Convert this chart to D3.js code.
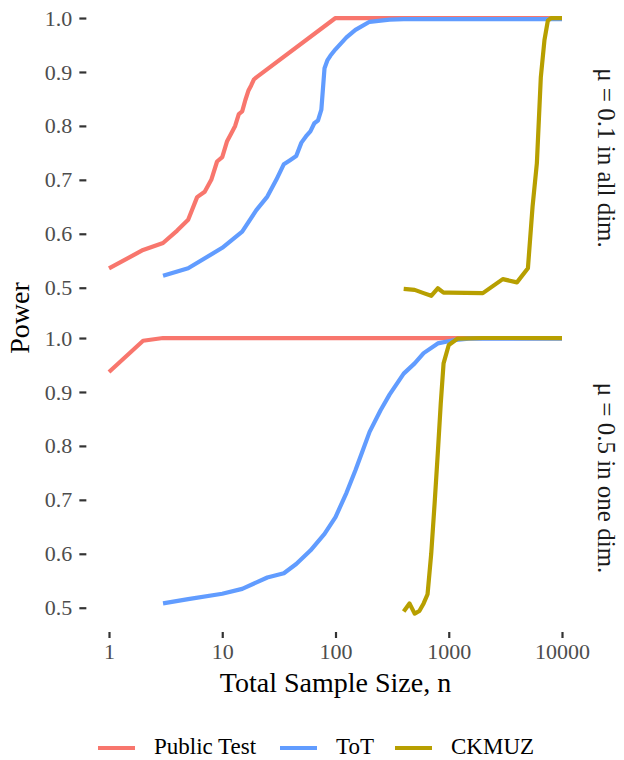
<!DOCTYPE html>
<html>
<head>
<meta charset="utf-8">
<script src="https://cdn.jsdelivr.net/npm/d3@7"></script>
<style>
    body { margin: 0; background: #fff; }
    svg { display: block; font-family: 'Liberation Serif', 'Times New Roman', serif; }
</style>
</head>
<body>
<svg id="chart" width="624" height="760"></svg>
<script>
// series names and colours
const methods = ['Public Test', 'ToT', 'CKMUZ'];
const methodColors = ['#F8766D', '#619CFF', '#B79F00'];

// facet labels
const facets = ['\u03bc = 0.1 in all dim.', '\u03bc = 0.5 in one dim.'];

// tick labels
const xTicks = [1, 10, 100, 1000, 10000];
const yTicks = [0.5, 0.6, 0.7, 0.8, 0.9, 1.0];

// top facet: mu = 0.1 in all dim.
const publicN1 = [1, 2, 3, 4, 5, 6, 7, 8, 9, 10, 11, 12, 13, 14, 15, 16, 17, 18, 19, 20, 100, 1000, 10000];
const publicP1 = [0.536, 0.570, 0.583, 0.606, 0.626, 0.668, 0.678, 0.700, 0.734, 0.742, 0.771, 0.786, 0.800, 0.822, 0.827, 0.848, 0.865, 0.875, 0.886, 0.890, 1.0, 1.0, 1.0];

const totN1 = [3, 5, 10, 15, 20, 25, 30, 35, 40, 45, 50, 55, 60, 65, 70, 75, 80, 85, 90, 100, 125, 150, 200, 300, 400, 500, 1000, 10000];
const totP1 = [0.522, 0.536, 0.574, 0.604, 0.644, 0.669, 0.700, 0.729, 0.737, 0.744, 0.769, 0.781, 0.790, 0.805, 0.810, 0.830, 0.907, 0.922, 0.930, 0.942, 0.964, 0.978, 0.993, 0.997, 0.998, 0.998, 0.998, 0.998];

const ckN1 = [400, 500, 600, 700, 800, 900, 1000, 2000, 3000, 4000, 5000, 5500, 6000, 6500, 7000, 7500, 8000, 9000, 10000];
const ckP1 = [0.498, 0.496, 0.490, 0.485, 0.499, 0.491, 0.491, 0.490, 0.516, 0.510, 0.536, 0.651, 0.731, 0.890, 0.959, 0.995, 1.0, 1.0, 1.0];

// bottom facet: mu = 0.5 in one dim.
const publicN2 = [1, 2, 3, 5, 10, 20, 100, 1000, 10000];
const publicP2 = [0.937, 0.995, 1.0, 1.0, 1.0, 1.0, 1.0, 1.0, 1.0];

const totN2 = [3, 5, 10, 15, 25, 35, 45, 60, 80, 100, 125, 150, 175, 200, 250, 300, 400, 500, 600, 800, 1100, 1500, 10000];
const totP2 = [0.508, 0.516, 0.526, 0.535, 0.556, 0.564, 0.581, 0.606, 0.637, 0.668, 0.713, 0.755, 0.793, 0.826, 0.866, 0.895, 0.934, 0.953, 0.972, 0.990, 0.996, 0.999, 0.999];

const ckN2 = [400, 450, 500, 550, 600, 650, 700, 750, 800, 850, 900, 1000, 1200, 2000, 10000];
const ckP2 = [0.493, 0.508, 0.489, 0.494, 0.508, 0.525, 0.600, 0.693, 0.786, 0.879, 0.953, 0.987, 0.999, 1.0, 1.0];

const panelData = [
    [[publicN1, publicP1], [totN1, totP1], [ckN1, ckP1]],
    [[publicN2, publicP2], [totN2, totP2], [ckN2, ckP2]]
];

const svg = d3.select('#chart');

const panelLeft = 86.35;
const panelRight = 584.65;
const panels = [[4, 312], [324, 632]];

// log x scale with ggplot-like expansion
const x = d3.scaleLog()
    .domain([Math.pow(10, -0.2), Math.pow(10, 4.2)])
    .range([panelLeft, panelRight]);

const lineGen = (y) => d3.line()
    .x(d => x(d[0]))
    .y(d => y(d[1]));

panels.forEach((p, k) => {
    const y = d3.scaleLinear()
        .domain([0.455, 1.026])
        .range([p[1], p[0]]);

    // Y axis
    const yAxis = svg.append('g')
        .attr('transform', 'translate(' + panelLeft + ',0)')
        .call(d3.axisLeft(y).tickValues(yTicks).tickFormat(d3.format('.1f')).tickSize(7).tickPadding(7));
    yAxis.select('.domain').remove();
    yAxis.selectAll('line').attr('stroke', '#333333').attr('stroke-width', 2.2);
    yAxis.selectAll('text')
        .attr('fill', '#4D4D4D')
        .style('font-family', 'Liberation Serif')
        .style('font-size', '22px');

    // lines
    panelData[k].forEach((s, i) => {
        const pts = s[0].map((n, j) => [n, s[1][j]]);
        svg.append('path')
            .attr('d', lineGen(y)(pts))
            .attr('stroke', methodColors[i])
            .attr('stroke-width', 4.2)
            .attr('stroke-linejoin', 'round')
            .attr('fill', 'none');
    });

    // strip label
    const cy = (p[0] + p[1]) / 2;
    svg.append('text')
        .attr('transform', 'translate(607,' + cy + ') rotate(90)')
        .attr('text-anchor', 'middle')
        .attr('dy', '0.35em')
        .attr('fill', '#1A1A1A')
        .style('font-size', '25px')
        .text(facets[k]);
});

// X axis
const xAxis = svg.append('g')
    .attr('transform', 'translate(0,632)')
    .call(d3.axisBottom(x).tickValues(xTicks).tickFormat(d3.format('d')).tickSize(6).tickPadding(5));
xAxis.select('.domain').remove();
xAxis.selectAll('line').attr('stroke', '#333333').attr('stroke-width', 2.2);
xAxis.selectAll('text')
    .attr('fill', '#4D4D4D')
    .style('font-family', 'Liberation Serif')
    .style('font-size', '22px');

// axis titles
svg.append('text')
    .attr('x', (panelLeft + panelRight) / 2)
    .attr('y', 692)
    .attr('text-anchor', 'middle')
    .style('font-size', '28px')
    .text('Total Sample Size, n');

svg.append('text')
    .attr('transform', 'translate(29,318) rotate(-90)')
    .attr('text-anchor', 'middle')
    .style('font-size', '28px')
    .text('Power');

// Legenda
const legendX = [98, 280, 395];
methods.forEach((m, i) => {
    svg.append('line')
        .attr('x1', legendX[i])
        .attr('x2', legendX[i] + 37)
        .attr('y1', 748)
        .attr('y2', 748)
        .attr('stroke', methodColors[i])
        .attr('stroke-width', 4.2);

    svg.append('text')
        .attr('x', legendX[i] + 56)
        .attr('y', 748)
        .attr('dy', '0.25em')
        .style('font-size', '23px')
        .text(m);
});
</script>
</body>
</html>
